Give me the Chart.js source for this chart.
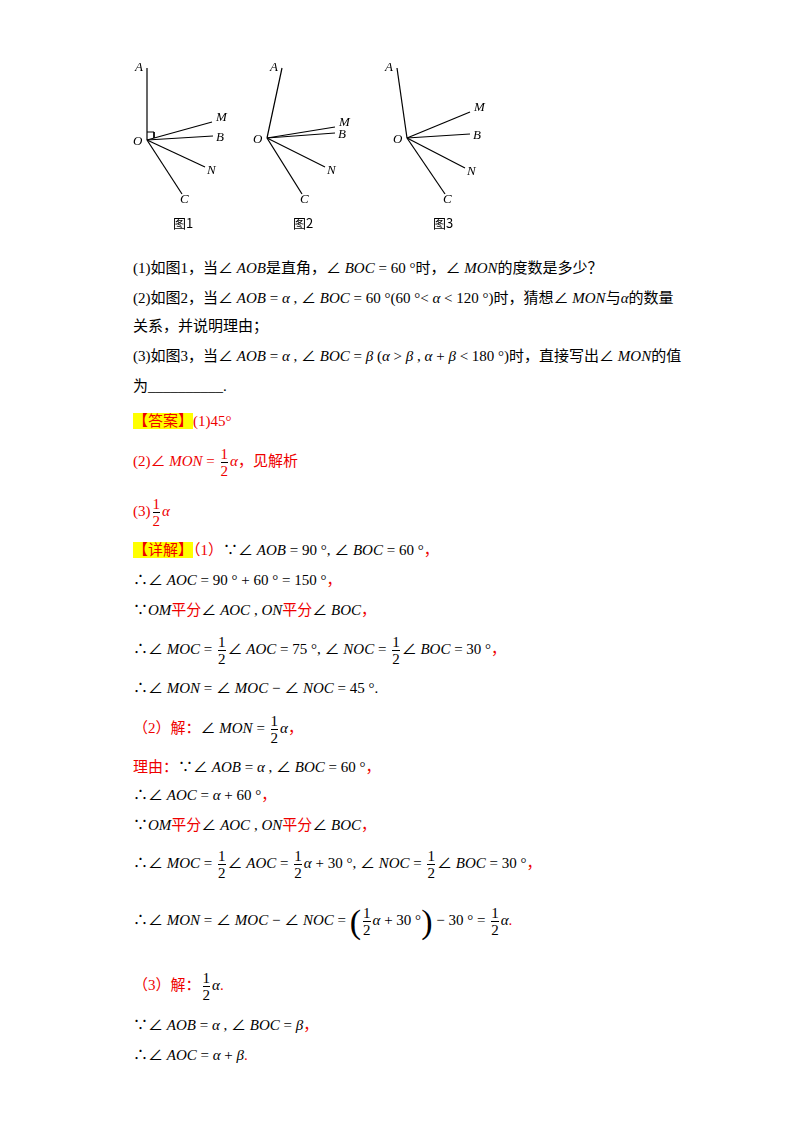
<!DOCTYPE html>
<html>
<head>
<meta charset="UTF-8">
<script src="https://cdn.jsdelivr.net/npm/chart.js"></script>
<style>
body{margin:0;background:#fff;width:800px;height:1132px;position:relative;font-family:"Liberation Serif","Noto Sans CJK SC",serif;font-size:15px;color:#000}
#fig{position:absolute;left:120px;top:55px;width:380px;height:180px}
.l{position:absolute;left:133px;white-space:nowrap;line-height:20px}
.r{color:#e00}
i{font-style:italic}
.hl{background:#ff0;color:#e00}
.fr{display:inline-block;vertical-align:middle;text-align:center;line-height:16px;margin:0 2px}
.fr span{display:block}
.fr span:first-child{border-bottom:1px solid #000}
.cap{position:absolute;top:213px;font-family:"Noto Sans CJK SC";font-size:13px}
</style>
</head>
<body>
<div id="fig"><canvas id="c"></canvas></div>
<div class="cap" style="left:173px">图1</div>
<div class="cap" style="left:293px">图2</div>
<div class="cap" style="left:433px">图3</div>

<div class="l" style="top:258px">(1)如图1，当∠ <i>AOB</i>是直角，∠ <i>BOC</i> = 60 °时，∠ <i>MON</i>的度数是多少？</div>
<div class="l" style="top:288px">(2)如图2，当∠ <i>AOB</i> = <i>α</i> , ∠ <i>BOC</i> = 60 °(60 °&lt; <i>α</i> &lt; 120 °)时，猜想∠ <i>MON</i>与<i>α</i>的数量</div>
<div class="l" style="top:316px">关系，并说明理由；</div>
<div class="l" style="top:346px">(3)如图3，当∠ <i>AOB</i> = <i>α</i> , ∠ <i>BOC</i> = <i>β</i> (<i>α</i> &gt; <i>β</i> , <i>α</i> + <i>β</i> &lt; 180 °)时，直接写出∠ <i>MON</i>的值</div>
<div class="l" style="top:376px">为__________.</div>
<div class="l" style="top:411px"><span class="hl">【答案】</span><span class="r">(1)45°</span></div>
<div class="l r" style="top:446px">(2)∠ <i>MON</i> = <span class="fr"><span>1</span><span>2</span></span><i>α</i>，见解析</div>
<div class="l r" style="top:496px">(3)<span class="fr"><span>1</span><span>2</span></span><i>α</i></div>
<div class="l" style="top:540px"><span class="hl">【详解】</span><span class="r">（1）</span>∵∠ <i>AOB</i> = 90 °, ∠ <i>BOC</i> = 60 °<span class="r">，</span></div>
<div class="l" style="top:570px">∴∠ <i>AOC</i> = 90 ° + 60 ° = 150 °<span class="r">，</span></div>
<div class="l" style="top:600px">∵<i>OM</i><span class="r">平分</span>∠ <i>AOC</i> , <i>ON</i><span class="r">平分</span>∠ <i>BOC</i><span class="r">，</span></div>
<div class="l" style="top:634px">∴∠ <i>MOC</i> = <span class="fr"><span>1</span><span>2</span></span>∠ <i>AOC</i> = 75 °, ∠ <i>NOC</i> = <span class="fr"><span>1</span><span>2</span></span>∠ <i>BOC</i> = 30 °<span class="r">，</span></div>
<div class="l" style="top:678px">∴∠ <i>MON</i> = ∠ <i>MOC</i> − ∠ <i>NOC</i> = 45 °.</div>
<div class="l" style="top:713px"><span class="r">（2）解：</span>∠ <i>MON</i> = <span class="fr"><span>1</span><span>2</span></span><i>α</i><span class="r">，</span></div>
<div class="l" style="top:757px"><span class="r">理由：</span>∵∠ <i>AOB</i> = <i>α</i> , ∠ <i>BOC</i> = 60 °<span class="r">，</span></div>
<div class="l" style="top:785px">∴∠ <i>AOC</i> = <i>α</i> + 60 °<span class="r">，</span></div>
<div class="l" style="top:815px">∵<i>OM</i><span class="r">平分</span>∠ <i>AOC</i> , <i>ON</i><span class="r">平分</span>∠ <i>BOC</i><span class="r">，</span></div>
<div class="l" style="top:848px">∴∠ <i>MOC</i> = <span class="fr"><span>1</span><span>2</span></span>∠ <i>AOC</i> = <span class="fr"><span>1</span><span>2</span></span><i>α</i> + 30 °, ∠ <i>NOC</i> = <span class="fr"><span>1</span><span>2</span></span>∠ <i>BOC</i> = 30 °<span class="r">，</span></div>
<div class="l" style="top:905px">∴∠ <i>MON</i> = ∠ <i>MOC</i> − ∠ <i>NOC</i> = <span style="font-size:34px;vertical-align:middle">(</span><span class="fr"><span>1</span><span>2</span></span><i>α</i> + 30 °<span style="font-size:34px;vertical-align:middle">)</span> − 30 ° = <span class="fr"><span>1</span><span>2</span></span><i>α</i><span class="r">.</span></div>
<div class="l" style="top:970px"><span class="r">（3）解：</span><span class="fr"><span>1</span><span>2</span></span><i>α</i><span class="r">.</span></div>
<div class="l" style="top:1015px">∵∠ <i>AOB</i> = <i>α</i> , ∠ <i>BOC</i> = <i>β</i><span class="r">，</span></div>
<div class="l" style="top:1045px">∴∠ <i>AOC</i> = <i>α</i> + <i>β</i><span class="r">.</span></div>

<script>
// ray end points per figure, in page pixels (y down)
const rayNames = ['A', 'M', 'B', 'N', 'C'];
const origins = [[147, 140], [267, 138], [407, 138]];
const fig1Ends = [[147, 68], [212, 122], [213, 136], [205, 167], [182, 194]];
const fig2Ends = [[282, 68], [335, 127], [335, 133], [325, 167], [302, 194]];
const fig3Ends = [[397, 68], [470, 112], [470, 134], [465, 168], [445, 194]];
const figEnds = [fig1Ends, fig2Ends, fig3Ends];

const datasets = [];
figEnds.forEach((ends, f) => {
  ends.forEach(e => {
    datasets.push({
      data: [{x: origins[f][0], y: origins[f][1]}, {x: e[0], y: e[1]}],
      showLine: true, borderColor: '#000', borderWidth: 1.2, pointRadius: 0
    });
  });
});
// right angle mark on figure 1
datasets.push({
  data: [{x: 147, y: 132}, {x: 154, y: 132}, {x: 154, y: 138}],
  showLine: true, borderColor: '#000', borderWidth: 1, pointRadius: 0
});

const labelPlugin = {
  id: 'labels',
  afterDraw(chart) {
    const ctx = chart.ctx, xs = chart.scales.x, ys = chart.scales.y;
    ctx.save();
    ctx.font = 'italic 13px "Liberation Serif"';
    ctx.fillStyle = '#000';
    ctx.textBaseline = 'middle';
    figEnds.forEach((ends, f) => {
      ends.forEach((e, i) => {
        let dx = 4, dy = 0;
        const n = rayNames[i];
        if (n === 'A') { dx = -12; dy = 0; }
        if (n === 'M') { dx = 4; dy = -4; }
        if (n === 'B') { dx = 3; dy = 2; }
        if (n === 'N') { dx = 2; dy = 4; }
        if (n === 'C') { dx = -2; dy = 6; }
        ctx.fillText(n, xs.getPixelForValue(e[0] + dx), ys.getPixelForValue(e[1] + dy));
      });
      ctx.fillText('O', xs.getPixelForValue(origins[f][0] - 14), ys.getPixelForValue(origins[f][1] + 2));
    });
    ctx.restore();
  }
};

new Chart(document.getElementById('c'), {
  type: 'scatter',
  data: {datasets},
  options: {
    responsive: true, maintainAspectRatio: false, animation: false,
    layout: {padding: 0},
    plugins: {legend: {display: false}, tooltip: {enabled: false}},
    scales: {
      x: {type: 'linear', min: 120, max: 500, display: false},
      y: {type: 'linear', min: 55, max: 235, reverse: true, display: false}
    }
  },
  plugins: [labelPlugin]
});
</script>
</body>
</html>
